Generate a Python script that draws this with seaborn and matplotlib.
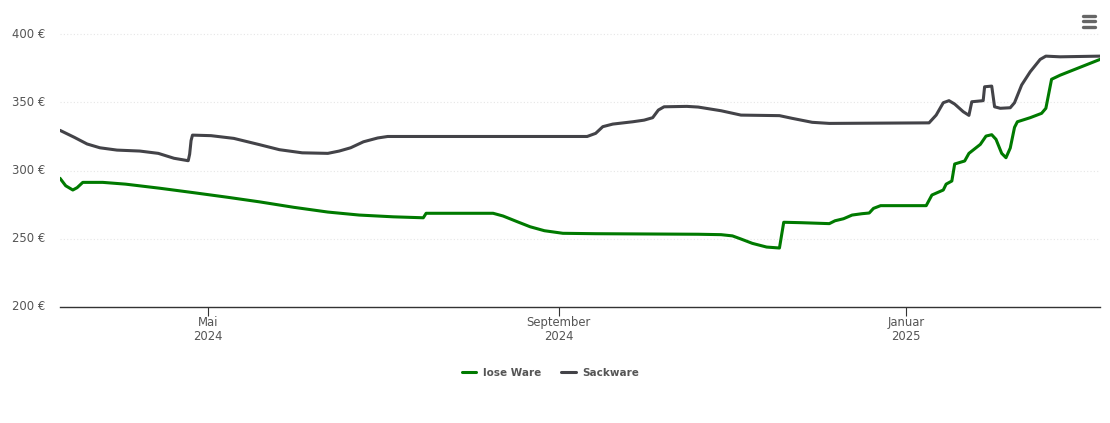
import pandas as pd
import matplotlib
matplotlib.use('Agg')
import matplotlib.pyplot as plt
import matplotlib.dates as mdates
from matplotlib.lines import Line2D
from matplotlib.transforms import ScaledTranslation
import seaborn as sns

# Values
lose_dates = ['2024-03-10', '2024-03-12', '2024-03-14 12:00', '2024-03-16', '2024-03-18', '2024-03-25',
              '2024-04-02', '2024-04-14', '2024-04-26', '2024-05-08', '2024-05-19', '2024-05-31',
              '2024-06-12', '2024-06-23', '2024-07-05', '2024-07-15 12:00', '2024-07-16 12:00', '2024-08-04',
              '2024-08-09', '2024-08-12 12:00', '2024-08-17 12:00', '2024-08-22', '2024-08-27', '2024-09-02 12:00',
              '2024-09-14', '2024-10-20', '2024-10-28', '2024-11-01', '2024-11-04', '2024-11-08',
              '2024-11-13', '2024-11-17 12:00', '2024-11-19', '2024-11-25', '2024-12-05', '2024-12-07',
              '2024-12-10', '2024-12-13', '2024-12-16 12:00', '2024-12-19', '2024-12-20 12:00', '2024-12-23',
              '2024-12-30', '2025-01-08', '2025-01-10', '2025-01-14', '2025-01-15', '2025-01-17',
              '2025-01-18', '2025-01-21 12:00', '2025-01-23', '2025-01-27', '2025-01-29', '2025-01-31',
              '2025-02-01 12:00', '2025-02-03 12:00', '2025-02-05', '2025-02-06 12:00', '2025-02-08', '2025-02-09',
              '2025-02-13 12:00', '2025-02-17 12:00', '2025-02-19', '2025-02-21', '2025-02-24', '2025-03-10']
lose_values = [294.3, 288.8, 285.7, 287.4, 291.3, 291.3,
               290, 287, 283.7, 280.3, 277, 273,
               269.5, 267.3, 266, 265.3, 268.6, 268.6,
               268.6, 266.6, 262.4, 258.7, 255.8, 253.9,
               253.6, 253.2, 252.9, 252, 249.7, 246.5,
               243.8, 243.1, 262, 261.7, 261, 263.1,
               264.6, 267.3, 268.3, 268.8, 272.2, 274.2,
               274.2, 274.2, 282, 285.7, 290, 292.3,
               304.8, 307, 312.6, 319.2, 325.3, 326.3,
               322.9, 312.6, 309.4, 316.5, 331.7, 335.8,
               338.8, 342, 345.7, 367, 370, 381.6]

sack_dates = ['2024-03-10', '2024-03-15', '2024-03-19 12:00', '2024-03-24', '2024-03-30', '2024-04-07',
              '2024-04-13 12:00', '2024-04-19', '2024-04-24', '2024-04-24 12:00', '2024-04-25', '2024-04-25 12:00',
              '2024-05-02', '2024-05-10', '2024-05-19', '2024-05-26', '2024-06-03', '2024-06-12',
              '2024-06-16', '2024-06-20', '2024-06-24 12:00', '2024-06-29 12:00', '2024-07-03', '2024-09-11',
              '2024-09-14', '2024-09-16 12:00', '2024-09-20', '2024-09-27', '2024-10-01', '2024-10-04',
              '2024-10-06', '2024-10-08', '2024-10-16', '2024-10-20', '2024-10-28', '2024-11-04',
              '2024-11-17 12:00', '2024-11-22', '2024-11-29', '2024-12-05', '2025-01-09', '2025-01-11 12:00',
              '2025-01-14', '2025-01-16', '2025-01-18', '2025-01-21', '2025-01-23', '2025-01-24',
              '2025-01-28', '2025-01-28 12:00', '2025-01-31', '2025-02-01', '2025-02-03', '2025-02-06 12:00',
              '2025-02-08', '2025-02-10 12:00', '2025-02-13 12:00', '2025-02-17', '2025-02-19', '2025-02-24',
              '2025-03-10']
sack_values = [329.5, 324.4, 319.5, 316.7, 315, 314.3,
               312.6, 309, 307.2, 312, 322, 326,
               325.6, 323.6, 319, 315.3, 313, 312.6,
               314.3, 316.7, 321.1, 323.9, 325, 325,
               327.3, 332.2, 334.1, 335.8, 337, 338.8,
               344.4, 346.8, 347.1, 346.6, 343.9, 340.7,
               340.3, 338.3, 335.4, 334.6, 335, 340.7,
               349.8, 351.3, 348.8, 343.2, 340.5, 350.5,
               351.3, 361.5, 362, 346.8, 345.7, 346.1,
               349.8, 362.8, 372.5, 381.6, 384, 383.5,
               384]

y_ticks = [200, 250, 300, 350, 400]
x_ticks = ['2024-05-01', '2024-09-01', '2025-01-01']
x_labels = ['Mai\n2024', 'September\n2024', 'Januar\n2025']
series_names = ['lose Ware', 'Sackware']
series_colors = ['#007a00', '#434348']

text_color = '#555555'

# Build long table for seaborn
lose = pd.DataFrame({'date': pd.to_datetime(lose_dates, format='mixed'), 'price': lose_values, 'sorte': series_names[0]})
sack = pd.DataFrame({'date': pd.to_datetime(sack_dates, format='mixed'), 'price': sack_values, 'sorte': series_names[1]})
data = pd.concat([lose, sack], ignore_index=True)

sns.set_style('white')
plt.rcParams['font.family'] = ['DejaVu Sans']

fig = plt.figure(figsize=(11.1, 4.23), dpi=100)
W, H = 1110, 423
ax = fig.add_axes([60 / W, (H - 306.7) / H, 1040 / W, 298.5 / H])

sns.lineplot(data=data, x='date', y='price', hue='sorte', palette=series_colors,
             hue_order=series_names, linewidth=2.2, legend=False, ax=ax, zorder=3,
             solid_joinstyle='round', solid_capstyle='round')

ax.set_xlim(pd.Timestamp('2024-03-10'), pd.Timestamp('2025-03-10'))
ax.set_ylim(200, 419.2)
ax.set_xlabel('')
ax.set_ylabel('')

# Y axis: dotted light grid, no spine
ax.set_yticks(y_ticks)
ax.set_yticklabels([f'{v} €' for v in y_ticks], color=text_color, fontsize=8.4)
ax.tick_params(axis='y', length=0, pad=10.8)
ax.grid(axis='y', color='#e6e6e6', linewidth=0.8, linestyle=(0, (1, 2)))
ax.set_axisbelow(True)
for side in ['top', 'right', 'left']:
    ax.spines[side].set_visible(False)
ax.spines['bottom'].set_color('#333333')
ax.spines['bottom'].set_linewidth(1)

# labels sit a little above their grid lines
for label in ax.get_yticklabels():
    label.set_transform(label.get_transform() + ScaledTranslation(0, 1.5 / 100, fig.dpi_scale_trans))

# X axis
ax.set_xticks(mdates.date2num(pd.to_datetime(x_ticks)))
ax.set_xticklabels(x_labels, color=text_color, fontsize=8.4, linespacing=1.17)
ax.tick_params(axis='x', length=6.5, width=0.8, color='#333333', pad=0, bottom=True)

# Legend
handles = [Line2D([], [], color=c, linewidth=2.2, solid_capstyle='round') for c in series_colors]
fig.legend(handles, series_names, loc='center', bbox_to_anchor=(550.5 / W, (H - 373) / H), ncol=2, frameon=False,
           prop={'size': 7.5, 'weight': 'bold'}, labelcolor=text_color, handlelength=1.4,
           handletextpad=0.65, columnspacing=1.9)

# Menu icon
for y_px in [16, 21.5, 27]:
    fig.add_artist(Line2D([1083 / W, 1095 / W], [(H - y_px) / H] * 2, color='#666666', linewidth=2.4,
                          solid_capstyle='round'))

fig.savefig('out.png', dpi=100)
